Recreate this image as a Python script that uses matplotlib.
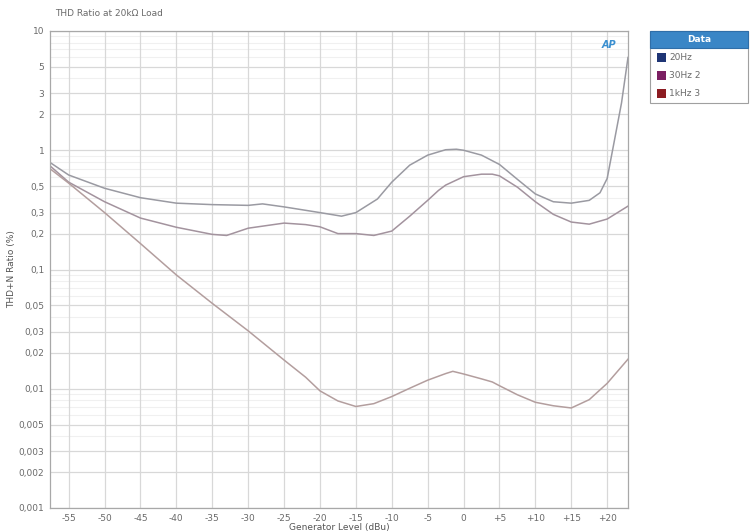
import numpy as np
import matplotlib
matplotlib.use("Agg")
import matplotlib.pyplot as plt
from matplotlib.patches import Rectangle

# values (dBu, THD+N %)
x_20hz = [-57.6, -55, -50, -45, -40, -35, -30, -28, -25, -20, -17, -15, -12, -10, -7.5, -5,
          -2.5, -1, 0, 2.5, 5, 7.5, 10, 12.5, 15, 17.5, 19, 20, 21, 22, 22.9]
y_20hz = [0.79, 0.62, 0.48, 0.40, 0.36, 0.35, 0.345, 0.355, 0.335, 0.30, 0.28, 0.30, 0.39, 0.54, 0.75, 0.91,
          1.01, 1.02, 1.0, 0.91, 0.76, 0.57, 0.43, 0.37, 0.36, 0.38, 0.44, 0.58, 1.2, 2.5, 6.0]

x_30hz = [-57.6, -55, -50, -45, -40, -35, -33, -30, -25, -22, -20, -17.5, -15, -12.5, -10, -7.5, -5,
          -3.5, -2.5, 0, 2.5, 4, 5, 7.5, 10, 12.5, 15, 17.5, 20, 22.9]
y_30hz = [0.74, 0.54, 0.37, 0.27, 0.226, 0.197, 0.193, 0.222, 0.245, 0.238, 0.228, 0.20, 0.20, 0.193, 0.21, 0.28, 0.38,
          0.46, 0.51, 0.60, 0.63, 0.63, 0.61, 0.49, 0.37, 0.29, 0.25, 0.24, 0.265, 0.34]

x_1khz = [-57.6, -55, -50, -45, -40, -35, -30, -25, -22, -20, -17.5, -15, -12.5, -10, -7.5, -5,
          -2.5, -1.5, 0, 2.5, 4, 5, 7.5, 10, 12.5, 15, 17.5, 20, 22.9]
y_1khz = [0.70, 0.53, 0.30, 0.165, 0.09, 0.052, 0.0306, 0.0174, 0.0125, 0.0096, 0.0079, 0.0071, 0.0075, 0.0086,
          0.0101, 0.0118, 0.0134, 0.0140, 0.0133, 0.0121, 0.0114, 0.0106, 0.0089, 0.0077, 0.0072, 0.0069,
          0.0081, 0.0111, 0.0177]

x_ticks = [-55, -50, -45, -40, -35, -30, -25, -20, -15, -10, -5, 0, 5, 10, 15, 20]
x_labels = ["-55", "-50", "-45", "-40", "-35", "-30", "-25", "-20", "-15", "-10", "-5", "0",
            "+5", "+10", "+15", "+20"]
y_ticks = [10, 5, 3, 2, 1, 0.5, 0.3, 0.2, 0.1, 0.05, 0.03, 0.02, 0.01, 0.005, 0.003, 0.002, 0.001]
y_labels = ["10", "5", "3", "2", "1", "0,5", "0,3", "0,2", "0,1", "0,05", "0,03", "0,02", "0,01",
            "0,005", "0,003", "0,002", "0,001"]

series_names = ["20Hz", "30Hz 2", "1kHz 3"]
legend_colors = ["#1f3575", "#7b1f62", "#8c1c22"]
line_colors = ["#9a9aa2", "#a3939e", "#b39e9e"]

fig = plt.figure(figsize=(7.51, 5.32), dpi=100)
fig.patch.set_facecolor("white")
ax = fig.add_axes([50 / 751, 24 / 532, 578 / 751, 477 / 532])

ax.set_yscale("log")
ax.set_xlim(-57.6, 22.9)
ax.set_ylim(0.001, 10)

# grid: minor log lines lighter than labelled ones
minor = [m * 10.0 ** e for e in range(-3, 1) for m in range(2, 10)]
for v in minor:
    if v not in y_ticks:
        ax.axhline(v, color="#f0f0f0", lw=0.8, zorder=0)
for v in y_ticks:
    ax.axhline(v, color="#d8d8d8", lw=0.9, zorder=0)
for v in x_ticks:
    ax.axvline(v, color="#d8d8d8", lw=0.9, zorder=0)

ax.plot(x_20hz, y_20hz, color=line_colors[0], lw=1.1)
ax.plot(x_30hz, y_30hz, color=line_colors[1], lw=1.1)
ax.plot(x_1khz, y_1khz, color=line_colors[2], lw=1.1)

ax.set_xticks(x_ticks)
ax.set_xticklabels(x_labels)
ax.set_yticks(y_ticks)
ax.set_yticklabels(y_labels)
ax.minorticks_off()
ax.tick_params(length=0, labelsize=6.5, colors="#6a6a6a", pad=4)
for s in ax.spines.values():
    s.set_color("#a8a8a8")
    s.set_linewidth(0.9)

ax.set_xlabel("Generator Level (dBu)", fontsize=6.5, color="#555555", labelpad=0)
ax.set_ylabel("THD+N Ratio (%)", fontsize=6.5, color="#555555", labelpad=2)
fig.text(55 / 751, 1 - 14 / 532, "THD Ratio at 20k\u03a9 Load", fontsize=6.5, color="#6a6a6a",
         va="center", ha="left")

# AP logo
ax.text(0.967, 0.971, "AP", transform=ax.transAxes, fontsize=7, color="#3a8fd0",
        fontweight="bold", fontstyle="italic", ha="center", va="center")

# legend box drawn in figure pixels
def fx(p):
    return p / 751

def fy(p):
    return 1 - p / 532

fig.patches.append(Rectangle((fx(650), fy(103)), fx(98), 72 / 532, transform=fig.transFigure,
                             facecolor="white", edgecolor="#a0a0a0", lw=0.8))
fig.patches.append(Rectangle((fx(650), fy(48)), fx(98), 17 / 532, transform=fig.transFigure,
                             facecolor="#3a86c6", edgecolor="#2f6ea8", lw=0.8))
fig.text(fx(699), fy(39.5), "Data", fontsize=6.5, color="white", fontweight="bold",
         ha="center", va="center")
for i, (name, c) in enumerate(zip(series_names, legend_colors)):
    yc = 58 + i * 17.5
    fig.patches.append(Rectangle((fx(657), fy(yc + 4.5)), fx(9), 9 / 532, transform=fig.transFigure,
                                 facecolor=c, edgecolor="none"))
    fig.text(fx(669), fy(yc), name, fontsize=6.5, color="#6a6a6a", ha="left", va="center")

fig.savefig("out.png", dpi=100, facecolor="white")
